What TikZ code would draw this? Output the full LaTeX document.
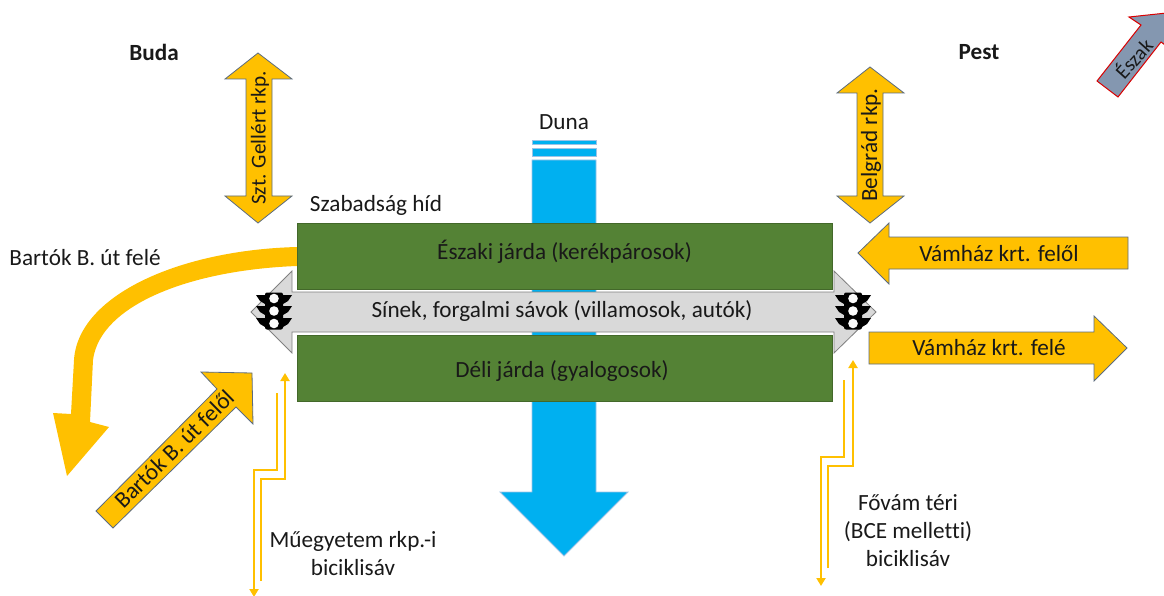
\documentclass[tikz,border=0pt]{standalone}
\usepackage{fontspec}
\setmainfont[Ligatures=NoCommon]{Carlito}
\usetikzlibrary{arrows.meta, positioning}

\definecolor{amber}{HTML}{FFC000}
\definecolor{slateline}{HTML}{5B6B80}
\definecolor{bridgegreen}{HTML}{548235}
\definecolor{danube}{HTML}{00B0F0}
\definecolor{danubeline}{HTML}{9DC3E6}
\definecolor{trackgray}{HTML}{D9D9D9}
\definecolor{northgray}{HTML}{8497B0}

\tikzset{
    label/.style={font=\fontsize{23.2}{28}\selectfont, text=black!90, align=center, inner sep=0pt},
    boldlabel/.style={label, font=\fontsize{23.2}{28}\selectfont\bfseries},
    amberarrow/.style={fill=amber, draw=slateline, line width=0.8pt, line join=miter},
    deck/.style={fill=bridgegreen, draw=bridgegreen!80!black, line width=0.8pt},
    river/.style={fill=danube, draw=danubeline, line width=0.8pt},
    bikelane/.style={draw=amber, line width=2.4pt, -{Triangle[length=8pt, width=9pt]}},
    lamp/.pic={
        \fill[black] (-9,-16) -- (-18,-16) -- (-14,-10) -- (-9,-7) -- cycle;
        \fill[black] (-9,-5) -- (-18,-5) -- (-14,1) -- (-9,4) -- cycle;
        \fill[black] (-9,7) -- (-18,7) -- (-14,13) -- (-9,16) -- cycle;
        \fill[black] (9,-16) -- (18,-16) -- (14,-10) -- (9,-7) -- cycle;
        \fill[black] (9,-5) -- (18,-5) -- (14,1) -- (9,4) -- cycle;
        \fill[black] (9,7) -- (18,7) -- (14,13) -- (9,16) -- cycle;
        \fill[black, rounded corners=2pt] (-9,-18.5) rectangle (9,18.5);
        \fill[white!90!trackgray] (0,-12.5) circle (4.8pt);
        \fill[white!90!trackgray] (0,0) circle (4.8pt);
        \fill[white!90!trackgray] (0,12.5) circle (4.8pt);
    }
}

\begin{document}
\begin{tikzpicture}[x=1pt, y=-1pt]
    \path[use as bounding box, clip] (0,0) rectangle (1164,596);

    % River
    \draw[river] (532,140) rectangle (596,144);
    \draw[river] (532,148) rectangle (596,156);
    \draw[river] (532,160) -- (596,160) -- (596,492) -- (628,492) -- (564,556) -- (500,492) -- (532,492) -- cycle;
    \node[label] (duna) at (564,122) {Duna};

    % Curved arrow towards Bartok
    \fill[amber] (297,247) .. controls (180,250) and (78,295) .. (74,360)
        -- (71,414) -- (53,413) -- (67,476) -- (109,427) -- (90,422) -- (93,360)
        .. controls (100,305) and (190,270) .. (297,266) -- cycle;

    % Tracks between the two pavements
    \draw[fill=trackgray, draw=black!50, line width=0.8pt] (251,312) -- (292,271) -- (292,292) -- (834,292) -- (834,271)
        -- (876,312) -- (834,353) -- (834,332) -- (292,332) -- (292,353) -- cycle;
    \draw[deck] (297,223) rectangle (832,289);
    \draw[deck] (297,335) rectangle (832,401);
    \node[label] (eszakijarda) at (564.5,252) {Északi járda (kerékpárosok)};
    \node[label] (sinek) at (562,311) {Sínek, forgalmi sávok (villamosok, autók)};
    \node[label] (delijarda) at (562,371) {Déli járda (gyalogosok)};
    \node[label] (szabadsag) at (376,205) {Szabadság híd};

    % Traffic lights
    \pic (lampbuda) at (274,311) {lamp};
    \pic (lamppest) at (853,311) {lamp};

    % Embankment arrows
    \draw[amberarrow] (258,53) -- (292,79) -- (272,79) -- (272,196) -- (292,196) -- (258,223)
        -- (225,196) -- (246,196) -- (246,79) -- (225,79) -- cycle;
    \node[label, font=\fontsize{21.2}{28}\selectfont, rotate=90] (gellert) at (260,138) {Szt. Gellért rkp.};
    \draw[amberarrow] (870,67) -- (904,93) -- (883,93) -- (883,196) -- (904,196) -- (870,223)
        -- (837,196) -- (857,196) -- (857,93) -- (837,93) -- cycle;
    \node[label, rotate=90] (belgrad) at (871,145) {Belgrád rkp.};

    % Boulevard arrows
    \draw[amberarrow] (858,253) -- (889,223) -- (889,237) -- (1128,237) -- (1128,269) -- (889,269) -- (889,284) -- cycle;
    \node[label] (vamhazfelol) at (999,254) {Vámház krt. felől};
    \draw[amberarrow] (869,332) -- (1094,332) -- (1094,316) -- (1127,348) -- (1094,381) -- (1094,364) -- (869,364) -- cycle;
    \node[label] (vamhazfele) at (989,348) {Vámház krt. felé};

    % Arrow from Bartok
    \draw[amberarrow] (96,511) -- (217,389) -- (201,372) -- (252,373) -- (253,424) -- (236,407) -- (113,528) -- cycle;
    \node[label, rotate=44.5] (bartokfelol) at (174,449) {Bartók B. út felől};
    \node[label] (bartokfele) at (85,258) {Bartók B. út felé};

    % Bike lanes
    \coordinate (budaout) at (277,393);
    \coordinate (budaend) at (254,597);
    \coordinate (budain) at (261,581);
    \coordinate (budatop) at (285,373);
    \draw[bikelane] (budaout) -- (277,470) -- (254,470) -- (budaend);
    \draw[bikelane] (budain) -- (261,479) -- (285,479) -- (budatop);
    \coordinate (pestout) at (844,380);
    \coordinate (pestend) at (821,586);
    \coordinate (pestin) at (828,568);
    \coordinate (pesttop) at (853,360);
    \draw[bikelane] (pestout) -- (844,457) -- (821,457) -- (pestend);
    \draw[bikelane] (pestin) -- (828,466) -- (853,466) -- (pesttop);
    \node[label] (muegyetem) at (353,554) {Műegyetem rkp.-i\\biciklisáv};
    \node[label] (fovam) at (908,531) {Fővám téri\\(BCE melletti)\\biciklisáv};

    % Side labels
    \node[boldlabel] (buda) at (154,52) {Buda};
    \node[boldlabel] (pest) at (979,52) {Pest};

    % North arrow
    \draw[fill=northgray, draw=red!85!black, line width=1pt] (1097,81) -- (1141,25) -- (1129,17) -- (1176,12) -- (1176,53)
        -- (1161,42) -- (1118,97) -- cycle;
    \node[label, font=\fontsize{20.5}{24}\selectfont, rotate=48] (eszak) at (1133,58) {Észak};
\end{tikzpicture}
\end{document}
